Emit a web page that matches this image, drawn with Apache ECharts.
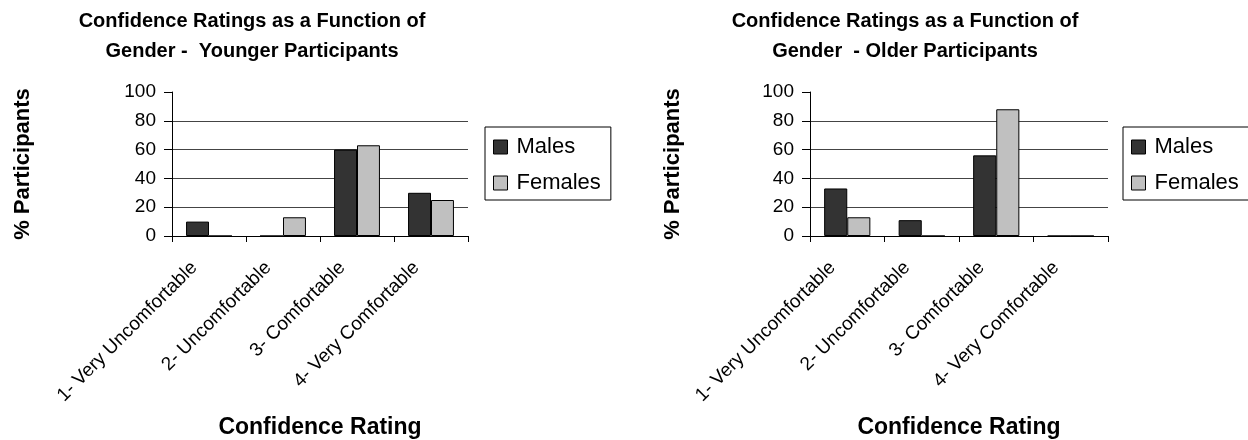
<!DOCTYPE html>
<html>
<head>
<meta charset="utf-8">
<script src="https://cdn.jsdelivr.net/npm/echarts@6/dist/echarts.min.js"></script>
<style>
html,body{margin:0;padding:0;background:#fff;}
#chart{width:1248px;height:440px;}
</style>
</head>
<body>
<div id="chart"></div>
<script>
const categories = ['1- Very Uncomfortable', '2- Uncomfortable', '3- Comfortable', '4- Very Comfortable'];
const seriesNames = ['Males', 'Females'];
const youngerMales = [10, 0, 60, 30];
const youngerFemales = [0, 13, 63, 25];
const olderMales = [33, 11, 56, 0];
const olderFemales = [13, 0, 88, 0];
const yTicks = [0, 20, 40, 60, 80, 100];
const titles = [
  'Confidence Ratings as a Function of\nGender -  Younger Participants',
  'Confidence Ratings as a Function of\nGender  - Older Participants'
];
const xAxisTitle = 'Confidence Rating';
const yAxisTitle = '% Participants';

const FONT = '"Liberation Sans", Arial, Helvetica, sans-serif';
const colors = ['#333333', '#c0c0c0'];

const chart = echarts.init(document.getElementById('chart'), null, {renderer: 'canvas'});

function xAxisCfg(gridIndex) {
  return {
    type: 'category', gridIndex, data: categories,
    axisLine: {lineStyle: {color: '#000', width: 1}},
    axisTick: {show: true, length: 6, lineStyle: {color: '#000'}},
    axisLabel: {rotate: 45, fontSize: 19, color: '#000', fontFamily: FONT, margin: 14, interval: 0,
                padding: [0, 21, 7, 0]},
    name: xAxisTitle, nameLocation: 'middle', nameGap: 180,
    nameTextStyle: {fontSize: 23, fontWeight: 'bold', color: '#000', fontFamily: FONT}
  };
}
function yAxisCfg(gridIndex, gap) {
  return {
    type: 'value', gridIndex, min: yTicks[0], max: yTicks[yTicks.length - 1], interval: 20,
    axisLine: {show: true, lineStyle: {color: '#000', width: 1}},
    axisTick: {show: true, length: 8, lineStyle: {color: '#000'}},
    axisLabel: {fontSize: 19, color: '#000', fontFamily: FONT, margin: 16},
    splitLine: {show: true, lineStyle: {color: ['rgba(0,0,0,0)', '#444', '#444', '#444', '#444', 'rgba(0,0,0,0)'], width: 1}},
    name: yAxisTitle, nameLocation: 'middle', nameGap: gap, nameRotate: 90,
    nameTextStyle: {fontSize: 22, fontWeight: 'bold', color: '#000', fontFamily: FONT}
  };
}
function barSeries(name, data, idx, colorIdx) {
  return {
    type: 'bar', name, data, xAxisIndex: idx, yAxisIndex: idx,
    barGap: '0%', barCategoryGap: '38%',
    itemStyle: {color: colors[colorIdx], borderColor: '#000', borderWidth: 1},
    emphasis: {disabled: true}
  };
}
function legendCfg(left) {
  return {
    orient: 'vertical', left, top: 127, data: seriesNames,
    borderColor: '#000', borderWidth: 1, padding: [9, 10, 6, 8],
    itemWidth: 14, itemHeight: 14, itemGap: 14, icon: 'rect',
    itemStyle: {borderColor: '#000', borderWidth: 1},
    textStyle: {fontSize: 22, color: '#000', fontFamily: FONT, padding: [0, 0, 0, 4]}
  };
}

chart.setOption({
  animation: false,
  backgroundColor: '#fff',
  title: [
    {text: titles[0], left: 252, top: 6, textAlign: 'center', padding: 0,
     textStyle: {fontSize: 20, fontWeight: 'bold', color: '#000', fontFamily: FONT, lineHeight: 30}},
    {text: titles[1], left: 905, top: 6, textAlign: 'center', padding: 0,
     textStyle: {fontSize: 20, fontWeight: 'bold', color: '#000', fontFamily: FONT, lineHeight: 30}}
  ],
  legend: [legendCfg(485), legendCfg(1123)],
  grid: [
    {left: 172, top: 92, width: 296, height: 145, containLabel: false},
    {left: 810, top: 92, width: 298, height: 144, containLabel: false}
  ],
  xAxis: [xAxisCfg(0), xAxisCfg(1)],
  yAxis: [yAxisCfg(0, 138), yAxisCfg(1, 126)],
  series: [
    barSeries(seriesNames[0], youngerMales, 0, 0),
    barSeries(seriesNames[1], youngerFemales, 0, 1),
    barSeries(seriesNames[0], olderMales, 1, 0),
    barSeries(seriesNames[1], olderFemales, 1, 1)
  ]
});
</script>
</body>
</html>
